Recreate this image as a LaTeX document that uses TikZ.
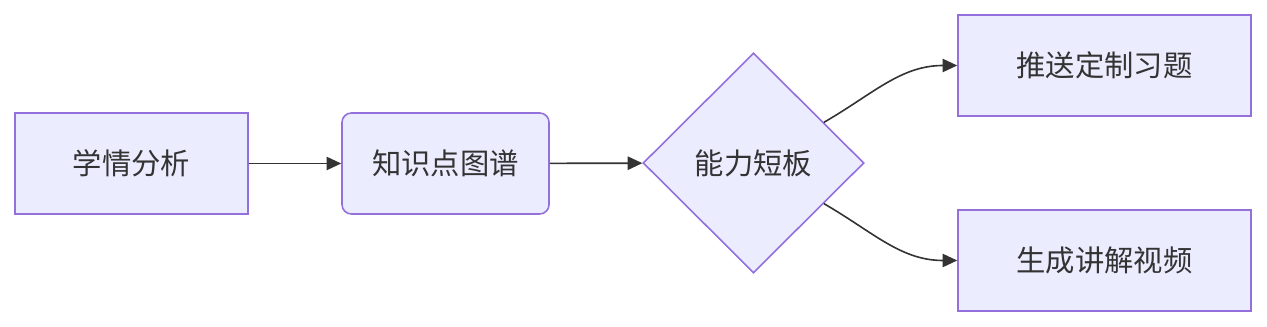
\documentclass[tikz,border=0pt]{standalone}
\usepackage{xcolor}
\usepackage{fontspec}
\usepackage{tikz}
\usetikzlibrary{positioning, arrows.meta, shapes.geometric}
\newfontfamily\cjk{Noto Sans CJK SC}
\definecolor{nodefill}{HTML}{ECECFF}
\definecolor{nodeline}{HTML}{9370DB}
\definecolor{text}{HTML}{333333}

\tikzset{
  box/.style={draw=nodeline, fill=nodefill, line width=1.2pt, minimum height=75.75pt,
    inner sep=0pt, text=text, font=\cjk\fontsize{22}{26}\selectfont},
  roundbox/.style={box, rounded corners=7pt},
  choice/.style={box, diamond, shape aspect=1, minimum width=165.75pt, minimum height=165pt},
  link/.style={draw=text, line width=1.2pt, -{Triangle[length=11pt, width=10pt]}},
}

\begin{document}
\begin{tikzpicture}[x=0.75pt, y=-0.75pt]
    \useasboundingbox (0,0) rectangle (1267,327);
    % main chain
    \node[box, minimum width=174.75pt] (study) at (131.5,163.5) {学情分析};
    \node[roundbox, minimum width=155.25pt] (graph) at (445.5,163.5) {知识点图谱};
    \node[choice] (weak) at (753.5,163) {能力短板};
    % two outcomes
    \node[box, minimum width=219.75pt] (push) at (1104.5,65.5) {推送定制习题};
    \node[box, minimum width=219.75pt] (video) at (1104.5,260.5) {生成讲解视频};

    \draw[link] (study) -- (graph);
    \draw[link] (graph) -- (weak);
    \draw[link] (weak) to[out=30, in=180] (push);
    \draw[link] (weak) to[out=-30, in=180] (video);
  \end{tikzpicture}
\end{document}
